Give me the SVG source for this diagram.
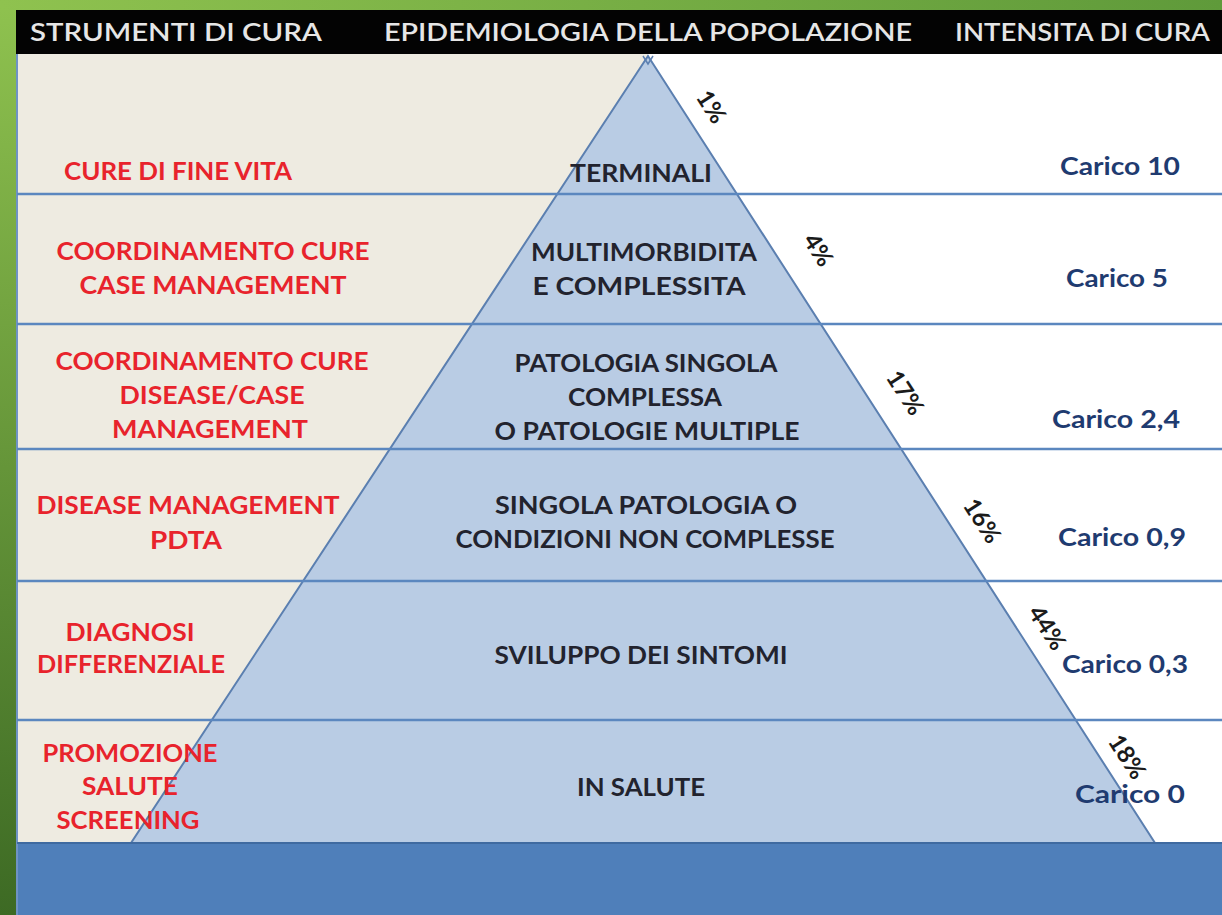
<svg xmlns="http://www.w3.org/2000/svg" width="1222" height="915" viewBox="0 0 1222 915">
<defs>
<linearGradient id="gl" x1="0" y1="0" x2="0" y2="1"><stop offset="0" stop-color="#8fc24f"/><stop offset="1" stop-color="#3d6a24"/></linearGradient>
<linearGradient id="gt" x1="0" y1="0" x2="1" y2="0"><stop offset="0" stop-color="#8fc24f"/><stop offset="1" stop-color="#5f9a3a"/></linearGradient>
<style>
.hd{font-family:Lato,"Liberation Sans",sans-serif;font-size:25px;fill:#e6e6e6;font-weight:600}
.rd{font-family:Lato,"Liberation Sans",sans-serif;font-size:24px;font-weight:bold;fill:#e8232c;text-anchor:middle}
.ct{font-family:Lato,"Liberation Sans",sans-serif;font-size:24px;font-weight:bold;fill:#22232e;text-anchor:middle}
.rt{font-family:Lato,"Liberation Sans",sans-serif;font-size:24px;font-weight:bold;fill:#1f3b70;text-anchor:middle}
.pc{font-family:Lato,"Liberation Sans",sans-serif;font-size:24px;font-weight:bold;fill:#1b1b1b;text-anchor:middle}
.ln{stroke:#5b87bf;stroke-width:2.5;fill:none}
</style>
</defs>
<rect x="0" y="0" width="1222" height="915" fill="url(#gl)"/>
<rect x="0" y="0" width="1222" height="10" fill="url(#gt)"/>
<g id="background">
<rect x="16" y="10" width="1206" height="905" fill="#ffffff"/>
<rect x="16" y="54" width="632" height="790" fill="#eeebe1"/>
<rect x="16" y="843" width="1206" height="72" fill="#4f7fba"/>
<rect x="16" y="10" width="1206" height="44" fill="#030303"/>
<line x1="17" y1="54" x2="17" y2="915" stroke="#6f93c4" stroke-width="2"/>
</g>
<g id="header">
<text class="hd" x="30" y="41" textLength="292" lengthAdjust="spacingAndGlyphs">STRUMENTI DI CURA</text>
<text class="hd" x="384" y="41" textLength="528" lengthAdjust="spacingAndGlyphs">EPIDEMIOLOGIA DELLA POPOLAZIONE</text>
<text class="hd" x="955" y="41" textLength="255" lengthAdjust="spacingAndGlyphs">INTENSITA DI CURA</text>
</g>
<g id="pyramid">
<polygon points="648,56 131,843 1155,843" fill="#b9cce4" stroke="#5b7fb0" stroke-width="2"/>
<path d="M643,56 L648,64 L653,56" fill="none" stroke="#5b7fb0" stroke-width="1.5"/>
</g>
<g id="connectors">
<line class="ln" x1="17" y1="194" x2="1222" y2="194"/>
<line class="ln" x1="17" y1="324" x2="1222" y2="324"/>
<line class="ln" x1="17" y1="449" x2="1222" y2="449"/>
<line class="ln" x1="17" y1="581" x2="1222" y2="581"/>
<line class="ln" x1="17" y1="720" x2="1222" y2="720"/>
<line x1="17" y1="843" x2="1222" y2="843" stroke="#3f6aa0" stroke-width="2"/>
</g>
<g id="row1">
<text class="rd" x="178" y="180" textLength="228" lengthAdjust="spacingAndGlyphs">CURE DI FINE VITA</text>
<text class="ct" x="641" y="182" textLength="142" lengthAdjust="spacingAndGlyphs">TERMINALI</text>
<text class="rt" x="1120" y="175" textLength="120" lengthAdjust="spacingAndGlyphs">Carico 10</text>
<text class="pc" transform="translate(711,107) rotate(57)" y="8">1%</text>
</g>
<g id="row2">
<text class="rd" x="213" y="260" textLength="313" lengthAdjust="spacingAndGlyphs">COORDINAMENTO  CURE</text>
<text class="rd" x="213" y="294" textLength="267" lengthAdjust="spacingAndGlyphs">CASE MANAGEMENT</text>
<text class="ct" x="644" y="261" textLength="226" lengthAdjust="spacingAndGlyphs">MULTIMORBIDITA</text>
<text class="ct" x="639" y="295" textLength="213" lengthAdjust="spacingAndGlyphs">E  COMPLESSITA</text>
<text class="rt" x="1117" y="287" textLength="102" lengthAdjust="spacingAndGlyphs">Carico 5</text>
<text class="pc" transform="translate(818,250) rotate(57)" y="8">4%</text>
</g>
<g id="row3">
<text class="rd" x="212" y="370" textLength="313" lengthAdjust="spacingAndGlyphs">COORDINAMENTO CURE</text>
<text class="rd" x="212" y="404" textLength="185" lengthAdjust="spacingAndGlyphs">DISEASE/CASE</text>
<text class="rd" x="210" y="438" textLength="196" lengthAdjust="spacingAndGlyphs">MANAGEMENT</text>
<text class="ct" x="646" y="372" textLength="263" lengthAdjust="spacingAndGlyphs">PATOLOGIA SINGOLA</text>
<text class="ct" x="645" y="406" textLength="154" lengthAdjust="spacingAndGlyphs">COMPLESSA</text>
<text class="ct" x="647" y="440" textLength="305" lengthAdjust="spacingAndGlyphs">O  PATOLOGIE MULTIPLE</text>
<text class="rt" x="1116" y="428" textLength="128" lengthAdjust="spacingAndGlyphs">Carico 2,4</text>
<text class="pc" transform="translate(905,393) rotate(57)" y="8">17%</text>
</g>
<g id="row4">
<text class="rd" x="188" y="514" textLength="303" lengthAdjust="spacingAndGlyphs">DISEASE MANAGEMENT</text>
<text class="rd" x="186" y="549" textLength="72" lengthAdjust="spacingAndGlyphs">PDTA</text>
<text class="ct" x="646" y="514" textLength="302" lengthAdjust="spacingAndGlyphs">SINGOLA PATOLOGIA  O</text>
<text class="ct" x="645" y="548" textLength="379" lengthAdjust="spacingAndGlyphs">CONDIZIONI NON COMPLESSE</text>
<text class="rt" x="1122" y="546" textLength="128" lengthAdjust="spacingAndGlyphs">Carico 0,9</text>
<text class="pc" transform="translate(982,521) rotate(57)" y="8">16%</text>
</g>
<g id="row5">
<text class="rd" x="130" y="641" textLength="129" lengthAdjust="spacingAndGlyphs">DIAGNOSI</text>
<text class="rd" x="131" y="673" textLength="188" lengthAdjust="spacingAndGlyphs">DIFFERENZIALE</text>
<text class="ct" x="641" y="664" textLength="293" lengthAdjust="spacingAndGlyphs">SVILUPPO DEI SINTOMI</text>
<text class="rt" x="1125" y="673" textLength="126" lengthAdjust="spacingAndGlyphs">Carico 0,3</text>
<text class="pc" transform="translate(1047,628) rotate(57)" y="8">44%</text>
</g>
<g id="row6">
<text class="rd" x="130" y="762" textLength="175" lengthAdjust="spacingAndGlyphs">PROMOZIONE</text>
<text class="rd" x="130" y="795" textLength="96" lengthAdjust="spacingAndGlyphs">SALUTE</text>
<text class="rd" x="128" y="829" textLength="143" lengthAdjust="spacingAndGlyphs">SCREENING</text>
<text class="ct" x="641" y="796" textLength="128" lengthAdjust="spacingAndGlyphs">IN SALUTE</text>
<text class="rt" x="1130" y="803" textLength="110" lengthAdjust="spacingAndGlyphs">Carico  0</text>
<text class="pc" transform="translate(1127,757) rotate(57)" y="8">18%</text>
</g>
</svg>
